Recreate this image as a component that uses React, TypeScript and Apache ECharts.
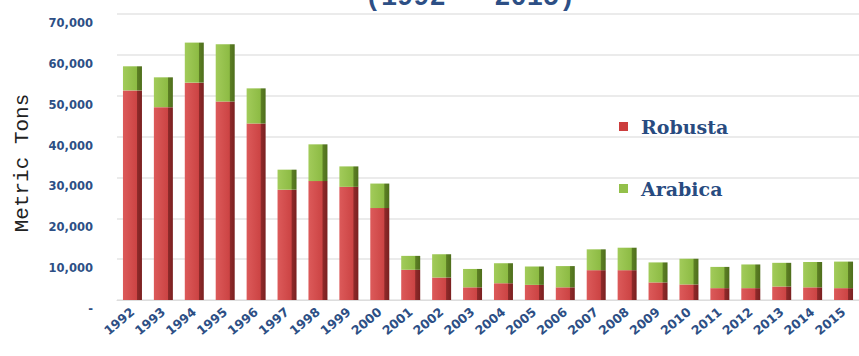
import React, { useEffect, useRef } from "react";
import * as echarts from "echarts";

const years = ["1992","1993","1994","1995","1996","1997","1998","1999","2000","2001","2002","2003","2004","2005","2006","2007","2008","2009","2010","2011","2012","2013","2014","2015"];
const robusta = [51300,47200,53200,48600,43200,27000,29100,27700,22500,7400,5500,3100,4100,3700,3100,7300,7300,4300,3800,2900,2900,3300,3100,2900];
const arabica = [5900,7300,9800,14000,8600,4900,9000,5000,6000,3400,5700,4500,4900,4500,5200,5100,5500,4900,6300,5200,5800,5800,6200,6500];
const yTicks = [0,10000,20000,30000,40000,50000,60000,70000];

const grad = (light: string, mid: string, dark: string, darker: string) =>
  new echarts.graphic.LinearGradient(0, 0, 1, 0, [
    { offset: 0, color: light },
    { offset: 0.72, color: mid },
    { offset: 0.76, color: dark },
    { offset: 1, color: darker },
  ]);

export default function App() {
  const ref = useRef<HTMLDivElement>(null);
  useEffect(() => {
    if (!ref.current) return;
    const chart = echarts.init(ref.current, null, { renderer: "svg" });
    const blue = "#2d4f85";
    chart.setOption({
      animation: false,
      backgroundColor: "#ffffff",
      graphic: [
        {
          type: "text",
          x: 470,
          y: 11,
          style: {
            text: "(1992 - 2015)",
            fill: blue,
            font: "bold 27px 'Liberation Mono', 'DejaVu Sans Mono', monospace",
            align: "center",
            verticalAlign: "bottom",
          },
        },
        {
          type: "text",
          x: 22,
          y: 163,
          rotation: Math.PI / 2,
          style: {
            text: "Metric Tons",
            fill: "#222222",
            font: "21px 'Liberation Mono', 'DejaVu Sans Mono', monospace",
            align: "center",
            verticalAlign: "middle",
          },
        },
      ],
      grid: { left: 117, right: 0, top: 14, bottom: 56 },
      legend: {
        orient: "vertical",
        left: 614,
        top: 112,
        itemGap: 43,
        itemWidth: 9,
        itemHeight: 9,
        icon: "rect",
        textStyle: {
          color: "#284b80",
          fontSize: 19,
          fontWeight: "bold",
          fontFamily: "'DejaVu Serif', serif",
          padding: [0, 0, 0, 8],
        },
        data: [
          { name: "Robusta", itemStyle: { color: "#cc3d3d" } },
          { name: "Arabica", itemStyle: { color: "#93c04a" } },
        ],
      },
      xAxis: {
        type: "category",
        data: years,
        axisTick: { show: false },
        axisLine: { lineStyle: { color: "#dddddd" } },
        axisLabel: {
          rotate: 40,
          margin: 10,
          color: blue,
          fontSize: 12.5,
          fontWeight: "bold",
          fontFamily: "'DejaVu Sans', sans-serif",
        },
      },
      yAxis: {
        type: "value",
        min: 0,
        max: 70000,
        interval: 10000,
        axisLine: { show: false },
        axisTick: { show: false },
        splitLine: { lineStyle: { color: "#e4e4e4", width: 1.5 } },
        axisLabel: {
          margin: 24,
          color: blue,
          fontSize: 11.5,
          fontWeight: "bold",
          fontFamily: "'DejaVu Sans', sans-serif",
          verticalAlign: "top",
          lineHeight: 18,
          formatter: (v: number) =>
            v === 0 ? "-" : v.toLocaleString("en-US"),
          customValues: yTicks,
        },
      },
      series: [
        {
          name: "Robusta",
          type: "bar",
          stack: "total",
          barWidth: 19,
          data: robusta,
          itemStyle: { color: grad("#dc5a5a", "#cc4444", "#8e2a2a", "#7a2020") },
        },
        {
          name: "Arabica",
          type: "bar",
          stack: "total",
          barWidth: 19,
          data: arabica,
          itemStyle: { color: grad("#a2cb5a", "#8dbb44", "#5c7f24", "#4e6e1c") },
        },
      ],
    });
    return () => chart.dispose();
  }, []);
  return (
    <div
      ref={ref}
      style={{ position: "absolute", left: 0, top: 0, width: 859, height: 356 }}
    />
  );
}
